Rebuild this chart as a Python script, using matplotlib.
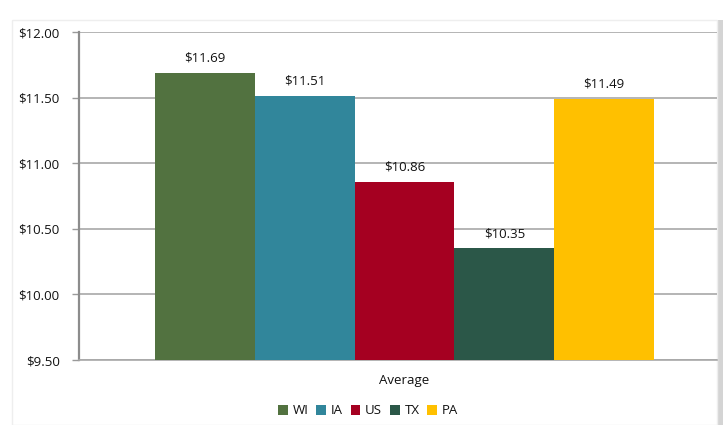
import matplotlib
matplotlib.use("Agg")
import matplotlib.pyplot as plt
from matplotlib.patches import Rectangle
import numpy as np

categories = ["Average"]
series = ["WI", "IA", "US", "TX", "PA"]
values = [11.69, 11.51, 10.86, 10.35, 11.49]
labels = ["$11.69", "$11.51", "$10.86", "$10.35", "$11.49"]
colors = ["#527240", "#31869B", "#A50021", "#2B5748", "#FFC000"]
yticks = [9.5, 10.0, 10.5, 11.0, 11.5, 12.0]
ytick_labels = ["$9.50", "$10.00", "$10.50", "$11.00", "$11.50", "$12.00"]

plt.rcParams['font.family'] = ['Open Sans', 'DejaVu Sans']
FS = 9.5
TC = "#111111"

fig = plt.figure(figsize=(7.23, 4.25), dpi=100)
W, H = 723, 425
# chart frame with soft shadow
fig.add_artist(Rectangle((717 / W, 0), 6 / W, 1 - 20 / H, transform=fig.transFigure,
                         facecolor="#D4D4D4", edgecolor="none", zorder=-2))
fig.add_artist(Rectangle((12 / W, 0), 705 / W, 1 - 20 / H, transform=fig.transFigure,
                         facecolor="white", edgecolor="#EEEEEE", linewidth=1, zorder=-1))

ax = fig.add_axes([79 / W, 1 - 360 / H, (717 - 79) / W, (360 - 32) / H])
ax.set_facecolor("none")

n = len(series)
w = 1.0
offsets = (np.arange(n) - (n - 1) / 2) * w
base = yticks[0]
for i, (s, v, c, lab) in enumerate(zip(series, values, colors, labels)):
    ax.bar(offsets[i], v - base, bottom=base, width=w, color=c, label=s, zorder=3)
    ax.annotate(lab, (offsets[i], v), xytext=(0, 6), textcoords="offset points",
                ha="center", va="bottom", fontsize=FS, color=TC)

ax.set_ylim(yticks[0], yticks[-1])
ax.set_yticks(yticks)
ax.set_yticklabels(ytick_labels, fontsize=FS, color=TC)
ax.set_xlim(-2.5 - 76 / 99.8, 2.5 + 63 / 99.8)
ax.set_xticks([0])
ax.set_xticklabels(categories, fontsize=FS, color=TC)
ax.tick_params(axis="x", length=0, pad=10)
ax.tick_params(axis="y", length=5, width=1, color="#9A9A9A", pad=9)
ax.yaxis.grid(True, color="#A8A8A8", linewidth=1.2, zorder=0)
for sp in ["top", "right"]:
    ax.spines[sp].set_visible(False)
ax.spines["left"].set_color("#8C8C8C")
ax.spines["left"].set_linewidth(1.6)
ax.spines["bottom"].set_color("#A8A8A8")
ax.spines["bottom"].set_linewidth(1.2)

leg = fig.legend(loc="center", bbox_to_anchor=(368 / W, 1 - 411 / H), ncol=5, frameon=False,
                 fontsize=FS, handlelength=0.75, handleheight=0.75, handletextpad=0.35,
                 columnspacing=0.6)
for t in leg.get_texts():
    t.set_color(TC)

fig.savefig("out.png", dpi=100)
